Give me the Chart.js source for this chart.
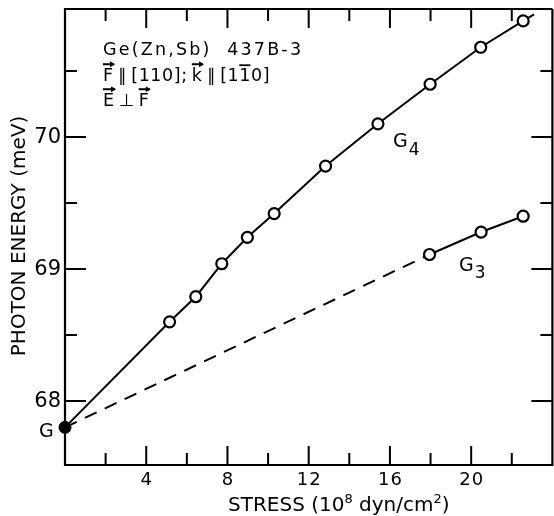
<!DOCTYPE html>
<html>
<head>
<meta charset="utf-8">
<title>Photon energy vs stress</title>
<script src="https://cdn.jsdelivr.net/npm/chart.js@4"></script>
<style>
  html, body { margin: 0; padding: 0; background: #fff; }
</style>
</head>
<body>
<canvas id="energyChart" width="554" height="516"></canvas>
<script>
// Zero-stress line G
const originStress = 0;
const originEnergy = 67.80;

// G4 branch
const g4Stress = [5.15, 6.44, 7.72, 8.98, 10.30, 12.83, 15.41, 17.98, 20.47, 22.56];
const g4Energy = [68.60, 68.79, 69.04, 69.24, 69.42, 69.78, 70.10, 70.40, 70.68, 70.88];
// the G4 curve runs on a little past the last reading
const g4TailStress = 23.1;
const g4TailEnergy = 70.93;

// G3 branch
const g3Stress = [17.95, 20.49, 22.56];
const g3Energy = [69.11, 69.28, 69.40];

// Axes
const stressMin = 0, stressMax = 23.7, stressFrame = 24;
const energyMin = 67.515, energyMax = 70.97;
const stressTicks = [4, 8, 12, 16, 20];
const stressMinor = [2, 6, 10, 14, 18, 22];
const energyTicks = [68, 69, 70];
const energyMinor = [68.5, 69.5, 70.5];

const FONT = '"DejaVu Sans", sans-serif';

const pts = (xs, ys) => xs.map((x, i) => ({ x, y: ys[i] }));
const origin = { x: originStress, y: originEnergy };

// text pieces drawn one after another; arrow = vector arrow above, bar = overbar
function drawRuns(ctx, x, baseline, runs, size, spacing) {
  ctx.font = size + 'px ' + FONT;
  ctx.letterSpacing = spacing + 'px';
  ctx.textAlign = 'left';
  ctx.textBaseline = 'alphabetic';
  const cap = size * 0.73;
  runs.forEach(r => {
    const w = ctx.measureText(r.t).width;
    ctx.fillText(r.t, x, baseline);
    const gw = w - spacing;
    if (r.arrow) {
      const ay = baseline - cap - 4;
      ctx.lineWidth = 2;
      ctx.beginPath();
      ctx.moveTo(x, ay);
      ctx.lineTo(x + gw + 1, ay);
      ctx.stroke();
      ctx.beginPath();
      ctx.moveTo(x + gw + 2, ay);
      ctx.lineTo(x + gw - 3, ay - 3);
      ctx.lineTo(x + gw - 3, ay + 3);
      ctx.closePath();
      ctx.fill();
    }
    if (r.bar) {
      const by = baseline - cap - 3;
      ctx.lineWidth = 1.8;
      ctx.beginPath();
      ctx.moveTo(x, by);
      ctx.lineTo(x + gw, by);
      ctx.stroke();
    }
    x += w;
  });
  ctx.letterSpacing = '0px';
}

// letter with a subscript
function drawSub(ctx, x, baseline, main, sub, size, subSize, drop) {
  ctx.font = size + 'px ' + FONT;
  ctx.textAlign = 'left';
  ctx.textBaseline = 'alphabetic';
  ctx.fillText(main, x, baseline);
  const w = ctx.measureText(main).width;
  if (sub) {
    ctx.font = subSize + 'px ' + FONT;
    ctx.fillText(sub, x + w + 1, baseline + drop);
  }
}

const frameAndText = {
  id: 'frameAndText',
  afterDatasetsDraw(chart) {
    const { ctx, chartArea: a, scales: { x, y } } = chart;
    const x0 = x.getPixelForValue(stressMin);
    const xR = x.getPixelForValue(stressFrame);
    const yT = a.top, yB = a.bottom;
    ctx.save();
    ctx.strokeStyle = '#000';
    ctx.fillStyle = '#000';

    // frame
    ctx.lineWidth = 2.2;
    ctx.beginPath();
    ctx.moveTo(xR, yT); ctx.lineTo(x0, yT); ctx.lineTo(x0, yB); ctx.lineTo(xR, yB); ctx.lineTo(xR, yT);
    ctx.stroke();

    // inward ticks on all four sides
    ctx.lineWidth = 2;
    ctx.beginPath();
    const tickX = (v, len) => {
      const p = x.getPixelForValue(v);
      ctx.moveTo(p, yB); ctx.lineTo(p, yB - len);
      ctx.moveTo(p, yT); ctx.lineTo(p, yT + len);
    };
    const tickY = (v, len) => {
      const p = y.getPixelForValue(v);
      ctx.moveTo(x0, p); ctx.lineTo(x0 + len, p);
      ctx.moveTo(xR, p); ctx.lineTo(xR - len, p);
    };
    stressTicks.forEach(v => tickX(v, 19));
    stressMinor.forEach(v => tickX(v, 12));
    energyTicks.forEach(v => tickY(v, 21));
    energyMinor.forEach(v => tickY(v, 12));
    ctx.stroke();

    // tick labels
    ctx.font = '18px ' + FONT;
    ctx.letterSpacing = '1px';
    ctx.textAlign = 'center';
    ctx.textBaseline = 'alphabetic';
    stressTicks.forEach(v => ctx.fillText(String(v), x.getPixelForValue(v) + 0.5, 485));
    ctx.font = '21px ' + FONT;
    ctx.letterSpacing = '0px';
    ctx.textAlign = 'right';
    ctx.textBaseline = 'middle';
    energyTicks.forEach(v => ctx.fillText(String(v), x0 - 4, y.getPixelForValue(v) + 1));

    // axis titles
    ctx.textBaseline = 'alphabetic';
    ctx.textAlign = 'left';
    let tx = 228;
    const titleBase = 511;
    const piece = (t, size, dy) => {
      ctx.font = size + 'px ' + FONT;
      ctx.fillText(t, tx, titleBase + dy);
      tx += ctx.measureText(t).width;
    };
    piece('STRESS (10', 20, 0);
    piece('8', 13, -8);
    piece(' dyn/cm', 20, 0);
    piece('2', 13, -8);
    piece(')', 20, 0);

    ctx.save();
    ctx.translate(25, 236);
    ctx.rotate(-Math.PI / 2);
    ctx.font = '20px ' + FONT;
    ctx.textAlign = 'center';
    ctx.fillText('PHOTON ENERGY (meV)', 0, 0);
    ctx.restore();

    // sample and geometry note
    drawRuns(ctx, 103, 55, [{ t: 'Ge(Zn,Sb)  437B-3' }], 17.5, 2.2);
    drawRuns(ctx, 103, 81, [
      { t: 'F', arrow: true }, { t: '\u2009∥\u2009' }, { t: '[110];\u2009' },
      { t: 'k', arrow: true }, { t: '\u2009∥\u2009' }, { t: '[1' }, { t: '1', bar: true }, { t: '0]' }
    ], 17.5, 0.6);
    drawRuns(ctx, 103, 106, [
      { t: 'E', arrow: true }, { t: '\u2009⊥\u2009' }, { t: 'F', arrow: true }
    ], 17.5, 0.6);

    // curve labels
    drawSub(ctx, 393, 147, 'G', '4', 19, 17, 8);
    drawSub(ctx, 459, 271, 'G', '3', 19, 17, 7);
    drawSub(ctx, 39, 437, 'G', '', 19, 17, 0);

    ctx.restore();
  }
};

const openMarker = {
  showLine: false,
  pointRadius: 5.5,
  pointBorderWidth: 2.2,
  pointBackgroundColor: '#fff',
  pointBorderColor: '#000',
  clip: false
};

new Chart(document.getElementById('energyChart'), {
  type: 'scatter',
  data: {
    datasets: [
      { label: 'G4', data: pts(g4Stress, g4Energy), ...openMarker },
      { label: 'G3', data: pts(g3Stress, g3Energy), ...openMarker },
      {
        label: 'G', data: [origin], showLine: false, pointRadius: 6,
        pointBackgroundColor: '#000', pointBorderColor: '#000', clip: false
      },
      {
        label: 'G4 curve',
        data: [origin, ...pts(g4Stress, g4Energy), { x: g4TailStress, y: g4TailEnergy }],
        showLine: true, pointRadius: 0, borderColor: '#000', borderWidth: 2, tension: 0, clip: false
      },
      {
        label: 'G3 curve', data: pts(g3Stress, g3Energy),
        showLine: true, pointRadius: 0, borderColor: '#000', borderWidth: 2, tension: 0, clip: false
      },
      {
        label: 'G3 extrapolation', data: [origin, { x: g3Stress[0], y: g3Energy[0] }],
        showLine: true, pointRadius: 0, borderColor: '#000', borderWidth: 2, borderDash: [13, 9], clip: false
      }
    ]
  },
  options: {
    responsive: false,
    animation: false,
    layout: { padding: { left: 65, right: 0, top: 9, bottom: 51 } },
    plugins: { legend: { display: false }, tooltip: { enabled: false } },
    scales: {
      x: { type: 'linear', min: stressMin, max: stressMax, display: false },
      y: { type: 'linear', min: energyMin, max: energyMax, display: false }
    }
  },
  plugins: [frameAndText]
});
</script>
</body>
</html>
